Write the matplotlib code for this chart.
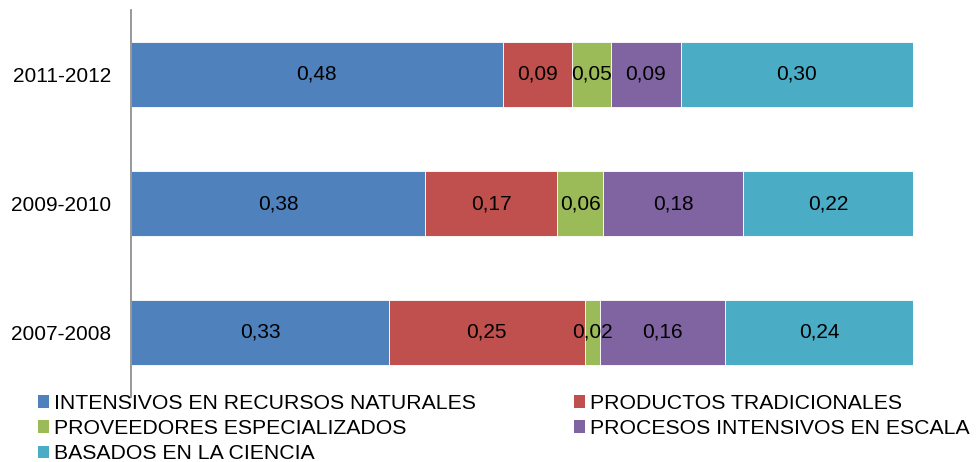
import numpy as np
import matplotlib
matplotlib.use("Agg")
import matplotlib.pyplot as plt

plt.rcParams['font.family'] = ['Liberation Sans', 'DejaVu Sans']

periods = ['2007-2008', '2009-2010', '2011-2012']
series_names = [
    'INTENSIVOS EN RECURSOS NATURALES',
    'PRODUCTOS TRADICIONALES',
    'PROVEEDORES ESPECIALIZADOS',
    'PROCESOS INTENSIVOS EN ESCALA',
    'BASADOS EN LA CIENCIA',
]
recursos_naturales = [0.33, 0.38, 0.48]
tradicionales = [0.25, 0.17, 0.09]
especializados = [0.02, 0.06, 0.05]
escala = [0.16, 0.18, 0.09]
ciencia = [0.24, 0.22, 0.30]

colors = ['#4F81BD', '#C0504D', '#9BBB59', '#8064A2', '#4BACC6']

series = np.array([recursos_naturales, tradicionales, especializados, escala, ciencia])
# 100% stacked: each period scaled to its own total
shares = series / series.sum(axis=0)

FS = 15
LEG_FS = 15.3

fig = plt.figure(figsize=(9.76, 4.62), dpi=100)
ax = fig.add_axes([131/976, 1 - 397/462, (913 - 131)/976, (397 - 10)/462])

y = np.arange(len(periods))
left = np.zeros(len(periods))
handles = []
for name, vals, frac, col in zip(series_names, series, shares, colors):
    bars = ax.barh(y, frac, left=left, height=0.51, color=col,
                   edgecolor='#ffffff', linewidth=0.6, label=name)
    handles.append(bars)
    for yi, l, w, v in zip(y, left, frac, vals):
        ax.text(l + w / 2, yi, f"{v:.2f}".replace('.', ','),
                ha='center', va='center', fontsize=FS, color='black')
    left += frac

ax.set_xlim(0, 1)
ax.set_ylim(-0.5, len(periods) - 0.5)
ax.set_yticks(y)
ax.set_yticklabels(periods, fontsize=FS)
ax.tick_params(axis='y', length=0, pad=14)
ax.set_xticks([])
for s in ['top', 'right', 'bottom']:
    ax.spines[s].set_visible(False)
ax.spines['left'].set_color('#868686')
ax.spines['left'].set_linewidth(1.2)

order = [0, 2, 4, 1, 3]
leg = fig.legend([handles[i] for i in order], [series_names[i] for i in order],
                 loc='upper left', bbox_to_anchor=(38/976, 1 - 394/462),
                 ncol=2, frameon=False, fontsize=LEG_FS,
                 handlelength=0.52, handleheight=0.52, handletextpad=0.25,
                 labelspacing=0.29, columnspacing=4.6, borderpad=0, borderaxespad=0)
for p in leg.get_patches():
    p.set_edgecolor('none')

fig.savefig('out.png', dpi=100)
